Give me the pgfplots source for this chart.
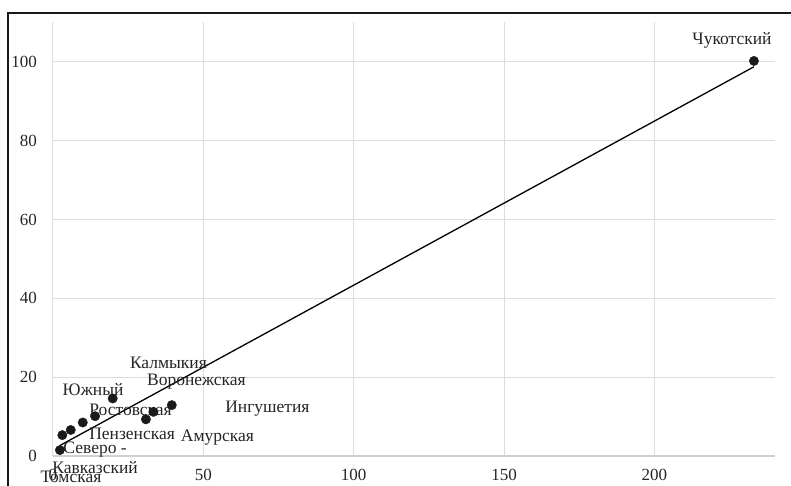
\documentclass[border=0pt]{standalone}
\usepackage{pgfplots}
\usepackage{pgfplotstable}
\pgfplotsset{compat=1.18}
\usepackage{fontspec}
\setmainfont{Liberation Serif}
\definecolor{gridc}{HTML}{DDDDDD}
\definecolor{axc}{HTML}{D0D0D0}
\definecolor{dotc}{HTML}{1A1A1A}
\pgfplotstableread{
x y
2.3 1.5
3.1 5.3
5.9 6.6
9.9 8.5
14.0 10.1
19.85 14.6
30.9 9.3
33.4 11.2
39.5 12.9
233.1 100.2
}\pts
\begin{document}
\fontsize{17.5}{21}\selectfont
\begin{tikzpicture}
\begin{axis}[
  scale only axis, width=721.7pt, height=433.7pt,
  xmin=0, xmax=240, ymin=0, ymax=110,
  xtick={0,50,...,200}, ytick={0,20,...,100},
  grid=major, major grid style={gridc, line width=1pt},
  axis line style={draw=none},
  major tick length=0pt,
  tick label style={font=\fontsize{17}{20}\selectfont, text=black!85},
  /pgf/number format/assume math mode=true,
  yticklabel style={xshift=-10pt},
  xticklabel style={yshift=-7pt},
  clip=false,
]
\addplot[only marks, mark=*, mark size=4.7pt, mark options={fill=dotc, draw=dotc}] table[x=x,y=y] {\pts};
\addplot[black, line width=1.3pt, no marks] table[x=x, y={create col/linear regression={y=y}}] {\pts};
\draw[axc, line width=1.1pt] (axis cs:0,0) -- (axis cs:240,0);
\begin{scope}[every node/.style={font=\fontsize{17.5}{20}\selectfont, text=black!85, inner sep=0pt}]
\node at (axis cs:225.8,105.5) {Чукотский};
\node at (axis cs:38.4,23.7) {Калмыкия};
\node at (axis cs:47.7,18.8) {Воронежская};
\node at (axis cs:13.3,16.9) {Южный};
\node at (axis cs:25.8,11.7) {Ростовская};
\node at (axis cs:71.3,11.9) {Ингушетия};
\node at (axis cs:26.3,5.6) {Пензенская};
\node at (axis cs:54.7,4.6) {Амурская};
\node[align=center] at (axis cs:14.0,-0.5) {Северо -\\Кавказский};
\node at (axis cs:6.0,-5.3) {Томская};
\end{scope}
\end{axis}
\draw[black!90, line width=1.5pt] (-45pt,-100pt) -- (-45pt,443pt) -- (820pt,443pt);
\pgfresetboundingbox
\useasboundingbox (-53pt,-29pt) rectangle (738pt,456pt);
\end{tikzpicture}
\end{document}
